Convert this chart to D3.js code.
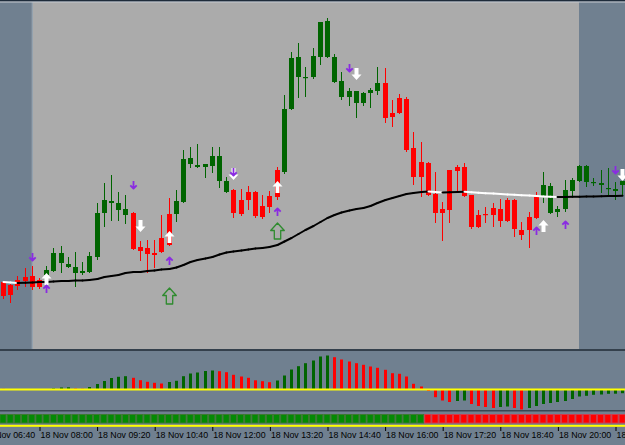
<!DOCTYPE html>
<html>
<head>
<meta charset="utf-8">
<script src="https://cdn.jsdelivr.net/npm/d3@7"></script>
<style>
  body { margin: 0; background: #708090; }
  svg { display: block; }
</style>
</head>
<body>
<div id="container"></div>
<script>
let w = 625;
let h = 445;

// first bar of the visible window, bars are 10 minutes apart
let firstBar = "2013-11-18 07:10";
let barMinutes = 10;

// prices (no price scale is shown, so these are points)
let open = [68,65,70,73,74,70,75,79,87,83,77,77,78,93,137,147,140,135,137,103,102,97,112,136,136,148,186,183,183,184,169,158,160,150,158,158,144,154,180,178,241,273,272,273,293,293,268,253,253,247,247,257,259,267,237,252,251,202,188,187,156,141,180,183,183,155,135,136,142,141,150,150,120,133,153,153,137,138,141,159,169,168,167,165,161,159,165];
let high = [69,66,74,82,84,72,84,102,104,93,98,88,98,147,167,175,158,155,138,109,110,110,135,152,160,200,203,206,186,203,203,173,161,161,164,159,155,159,183,255,298,307,283,302,328,332,296,278,262,259,258,262,283,282,250,256,253,218,208,188,178,148,180,185,187,155,140,143,147,151,152,151,128,138,158,178,167,144,170,172,185,185,172,180,182,168,180];
let low = [51,47,60,63,60,61,68,78,77,82,63,75,77,90,123,129,129,126,100,89,77,82,97,104,128,147,182,182,172,177,162,157,132,134,140,132,131,137,150,176,240,252,253,271,285,292,267,250,244,232,244,242,255,227,223,236,198,165,153,154,127,109,127,157,153,121,122,127,123,123,128,113,110,102,131,147,136,133,138,153,168,163,164,157,154,150,155];
let close = [54,55,64,69,63,63,80,97,97,86,83,79,94,137,150,149,147,141,101,99,96,95,98,105,149,191,192,185,186,194,194,169,137,136,150,134,133,143,153,241,292,293,273,294,328,329,293,269,259,259,257,260,267,232,233,237,200,173,173,155,137,137,140,179,154,123,123,135,135,129,129,121,115,120,132,165,164,141,160,170,184,184,168,167,162,161,169];

// moving average line
let maValues = [68,67.5,67,67.2,67.5,68,68,68.5,69,69,69.5,69.5,70,71,73,74,75,77,78,78,79,79.5,80.5,81,82.5,85,88,90,91.5,93,95.5,97.5,98.5,99.5,100.5,101.5,102,103,105,108.5,112,116,120,124,128,132,135,137.5,139.5,141,142,144,147,150,152,154,156,157,158,158.5,158,157.5,157.8,158,158.2,157.7,157.2,156.8,156.4,156,155.6,155.2,154.8,154.4,154,153.6,153.3,153,153.1,153.2,153.3,153.4,153.5,153.7,153.9,154.1,154.3];

// oscillator histogram (lower window)
let oscValues = [0.7,0,0,0,0,0,0,1.2,2,2.2,1,0.8,2.5,5.5,8.5,11.5,12.7,13.3,11.7,9.3,7.7,6.7,6,7.5,8.7,13.3,16,17,18.5,19,18.3,17.3,14.7,13,11.7,9.2,8.3,7.3,9,14,20,23.3,26.3,29,33,34,32.3,30,28,26.3,24.7,23,21.7,19.7,16.3,15.7,13,5.7,3,-1.5,-7.7,-11,-12.5,-11.5,-11,-14.5,-16.5,-17.5,-18.5,-17.5,-17,-18.5,-20,-18.5,-16.5,-14.5,-13.5,-12.5,-11.5,-9.5,-7,-6.3,-5.3,-5,-4.3,-4.2,-3.7];

// trend strip: 1 = up (green), -1 = down (red)
let trendStrip = [1,1,1,1,1,1,1,1,1,1,1,1,1,1,1,1,1,1,1,1,1,1,1,1,1,1,1,1,1,1,1,1,1,1,1,1,1,1,1,1,1,1,1,1,1,1,1,1,1,1,1,1,1,1,1,1,1,1,1,-1,-1,-1,-1,-1,-1,-1,-1,-1,-1,-1,-1,-1,-1,-1,-1,-1,-1,-1,-1,-1,-1,-1,-1,-1,-1,-1,-1];

// signal arrows: bar index + price level
let purpleUpBars = [6, 23, 38, 74, 78];
let purpleUpPrice = [61, 89, 138, 119, 125];
let purpleDownBars = [4, 18, 32, 48, 85];
let purpleDownPrice = [93, 165, 178, 282, 180];
let whiteUpBars = [6, 23, 38, 75];
let whiteUpPrice = [71, 113, 163, 124];
let whiteDownBars = [19, 32, 49, 86];
let whiteDownPrice = [124, 176, 276, 175];
let bigUpBars = [23, 38];
let bigUpPrice = [54, 119];

// time axis labels and the highlighted session
let tickLabels = ["06:40","08:00","09:20","10:40","12:00","13:20","14:40","16:00","17:20","18:40","20:00","21:20"];
let sessionFrom = "07:50";
let sessionTo = "20:30";

let parseFull = d3.timeParse("%Y-%m-%d %H:%M");
let day = "2013-11-18 ";
let t0 = parseFull(firstBar);
let barTimes = open.map(function(d, i){
  return d3.timeMinute.offset(t0, i * barMinutes);
});

let svg = d3.select("#container")
  .append("svg")
    .attr("width", w)
    .attr("height", h)
    .style("font-family", "'Liberation Sans', Arial, sans-serif")
;

// panel layout
let mainTop = 2;
let mainBottom = 349;
let oscTop = 351;
let oscBottom = 410;
let stripBottom = 427;

let xScale = d3.scaleTime()
  .domain([barTimes[0], barTimes[barTimes.length - 1]])
  .range([3, 3 + (barTimes.length - 1) * 7.2]);

let yScale = d3.scaleLinear().domain([0, 348]).range([350, 2]);
let oscScale = d3.scaleLinear().domain([-20.5, 38.5]).range([oscBottom, oscTop]);

function bx(i){
  return Math.round(xScale(barTimes[i]));
}

// backgrounds
svg.append("rect").attr("x", 0).attr("y", 0).attr("width", w).attr("height", h).attr("fill", "#708090");

let sx0 = xScale(parseFull(day + sessionFrom));
let sx1 = xScale(parseFull(day + sessionTo));
svg.append("rect")
  .attr("x", sx0).attr("y", mainTop)
  .attr("width", sx1 - sx0).attr("height", mainBottom - mainTop)
  .attr("fill", "#ababab");
svg.append("line")
  .attr("x1", sx0 + 0.5).attr("x2", sx0 + 0.5)
  .attr("y1", mainTop).attr("y2", mainBottom)
  .attr("stroke", "#8fa0b0").attr("stroke-width", 1);

// frame lines
svg.append("rect").attr("x", 0).attr("y", 0).attr("width", w).attr("height", 1.5).attr("fill", "#1e2b3a");
svg.append("rect").attr("x", 0).attr("y", 1.5).attr("width", w).attr("height", 1).attr("fill", "#c6cacf");
svg.append("rect").attr("x", 0).attr("y", mainBottom).attr("width", w).attr("height", 2).attr("fill", "#34404c");
svg.append("rect").attr("x", 0).attr("y", oscBottom).attr("width", w).attr("height", 1.5).attr("fill", "#3a4652");

// moving average, white where it is falling
let maGroup = svg.append("g");

// candles
let candles = svg.append("g").selectAll("g")
  .data(open)
  .enter()
  .append("g")
;

candles.append("rect")
  .attr("x", function(d, i){ return bx(i); })
  .attr("width", 1)
  .attr("y", function(d, i){ return yScale(high[i]); })
  .attr("height", function(d, i){ return Math.max(1, yScale(low[i]) - yScale(high[i])); })
  .attr("fill", function(d, i){ return close[i] >= open[i] ? "#006400" : "#ff0000"; });

candles.append("rect")
  .attr("x", function(d, i){ return bx(i) - 2; })
  .attr("width", 5)
  .attr("y", function(d, i){ return yScale(Math.max(open[i], close[i])); })
  .attr("height", function(d, i){ return Math.max(1.2, Math.abs(yScale(open[i]) - yScale(close[i]))); })
  .attr("fill", function(d, i){ return close[i] >= open[i] ? "#006400" : "#ff0000"; });

for (let i = 1; i < maValues.length; i++){
  maGroup.append("line")
    .attr("x1", bx(i - 1) + 0.5).attr("y1", yScale(maValues[i - 1]))
    .attr("x2", bx(i) + 0.5).attr("y2", yScale(maValues[i]))
    .attr("stroke", maValues[i] < maValues[i - 1] ? "#ffffff" : "#000000")
    .attr("stroke-width", 2)
    .attr("stroke-linecap", "round");
}
maGroup.raise();

// arrows
let arrowGroup = svg.append("g");

function drawArrows(bars, prices, shape, fill, stroke, sw){
  arrowGroup.selectAll(null)
    .data(bars)
    .enter()
    .append("path")
      .attr("d", shape)
      .attr("transform", function(d, j){ return "translate(" + (bx(d) + 0.5) + "," + yScale(prices[j]) + ")"; })
      .attr("fill", fill)
      .attr("stroke", stroke)
      .attr("stroke-width", sw)
      .attr("stroke-linejoin", "round");
}

let smallDown = "M0,-4 V3.5 M-3.2,0.3 L0,3.5 L3.2,0.3";
let smallUp = "M0,4 V-3.5 M-3.2,-0.3 L0,-3.5 L3.2,-0.3";
let whiteUp = "M0,-6 L5,-0.5 L2,-0.5 L2,6 L-2,6 L-2,-0.5 L-5,-0.5 Z";
let whiteDown = "M0,6 L5,0.5 L2,0.5 L2,-6 L-2,-6 L-2,0.5 L-5,0.5 Z";
let bigUp = "M0,-8 L6.8,-0.5 L3.2,-0.5 L3.2,8 L-3.2,8 L-3.2,-0.5 L-6.8,-0.5 Z";

drawArrows(whiteUpBars, whiteUpPrice, whiteUp, "#ffffff", "none", 0);
drawArrows(whiteDownBars, whiteDownPrice, whiteDown, "#ffffff", "none", 0);
drawArrows(purpleUpBars, purpleUpPrice, smallUp, "none", "#8a2be2", 1.8);
drawArrows(purpleDownBars, purpleDownPrice, smallDown, "none", "#8a2be2", 1.8);
drawArrows(bigUpBars, bigUpPrice, bigUp, "none", "#2e8b2e", 1.3);

// oscillator histogram
svg.append("g").selectAll("rect")
  .data(oscValues)
  .enter()
  .append("rect")
    .attr("x", function(d, i){ return bx(i) - 1; })
    .attr("width", 3)
    .attr("y", function(d){ return Math.min(oscScale(d), oscScale(0)); })
    .attr("height", function(d){ return Math.abs(oscScale(d) - oscScale(0)); })
    .attr("fill", function(d, i){ return (i > 0 && d >= oscValues[i - 1]) ? "#006400" : "#ff0000"; })
;
svg.append("rect")
  .attr("x", 0).attr("y", oscScale(0) - 1)
  .attr("width", w).attr("height", 2)
  .attr("fill", "#ffff00");

// trend strip
svg.append("g").selectAll("rect")
  .data(trendStrip)
  .enter()
  .append("rect")
    .attr("x", function(d, i){ return xScale(barTimes[i]) - 3.1; })
    .attr("y", 414.5)
    .attr("width", 6.2)
    .attr("height", 8.5)
    .attr("fill", function(d){ return d > 0 ? "#048a04" : "#ff0000"; })
    .attr("stroke", function(d){ return d > 0 ? "#3c7a30" : "#d23a4a"; })
    .attr("stroke-width", 1)
;
svg.append("rect")
  .attr("x", 0).attr("y", 424.8)
  .attr("width", w).attr("height", 2)
  .attr("fill", "#ffff00");

// time axis
let tickDates = tickLabels.map(function(d){ return parseFull(day + d); });
let xAxis = d3.axisBottom(xScale)
  .tickValues(tickDates)
  .tickFormat(d3.timeFormat("%d %b %H:%M"))
  .tickSize(4)
  .tickSizeOuter(0);

let axisGroup = svg.append("g")
  .attr("transform", "translate(0," + stripBottom + ")")
  .call(xAxis);
axisGroup.select(".domain").remove();
axisGroup.selectAll(".tick line").attr("stroke", "#000").attr("transform", "translate(0.5,0)");
axisGroup.selectAll(".tick text")
  .attr("text-anchor", "start")
  .attr("x", 1)
  .attr("y", 5)
  .attr("fill", "#000")
  .attr("font-size", "8.8px")
  .attr("font-family", "'Liberation Sans', Arial, sans-serif");
</script>
</body>
</html>
